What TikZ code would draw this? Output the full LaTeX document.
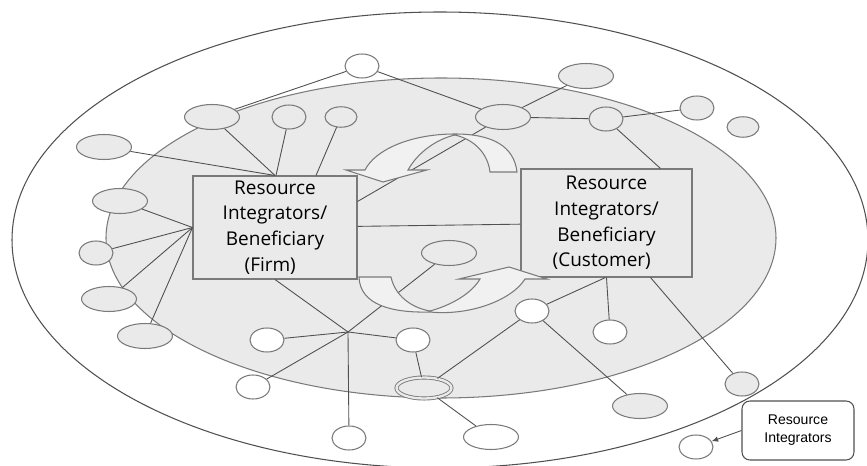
\documentclass[tikz,border=0pt]{standalone}
\usepackage{fontspec}
\setmainfont{Open Sans}
\newfontfamily\arialfont{Liberation Sans}
\usetikzlibrary{shapes.geometric,calc,arrows.meta}
\definecolor{lightfill}{HTML}{EAEAEA}
\definecolor{swirlfill}{HTML}{F1F1F1}
\definecolor{linegray}{HTML}{505050}
\definecolor{rimgray}{HTML}{7A7A7A}

\begin{document}
\begin{tikzpicture}[x=0.02cm,y=-0.02cm]
        \tikzstyle{resbig}=[ellipse,draw=rimgray,fill=lightfill,line width=0.6pt,minimum width=1.1cm,minimum height=0.5cm,inner sep=0pt]
        \tikzstyle{ressmall}=[ellipse,draw=rimgray,fill=lightfill,line width=0.6pt,minimum width=0.68cm,minimum height=0.48cm,inner sep=0pt]
        \tikzstyle{resdot}=[ellipse,draw=rimgray,fill=lightfill,line width=0.6pt,minimum width=0.64cm,minimum height=0.41cm,inner sep=0pt]
        \tikzstyle{whitefill}=[fill=white]
        \tikzstyle{ribox}=[rectangle,draw=rimgray,fill=lightfill,line width=0.6pt,align=center,inner sep=0pt,font=\fontsize{10.8}{14.6}\selectfont]
        \tikzstyle{link}=[draw=linegray,line width=0.5pt]
        \tikzstyle{swirl}=[draw=rimgray,fill=swirlfill,line width=0.6pt]
        \useasboundingbox (0,0) rectangle (867,466);
    	\begin{scope}
         % the two ecosystem rings
         \draw[draw=linegray,line width=0.6pt] (440,240) ellipse [x radius=428,y radius=228];
         \draw[draw=rimgray,fill=lightfill,line width=0.6pt] (441,238) ellipse [x radius=335,y radius=160];

         \node [ribox,minimum width=3.28cm,minimum height=2.06cm] (firm) at (275,227.5) {Resource\\Integrators/\\Beneficiary\\(Firm)\hspace*{0.5em}};
         \node [ribox,minimum width=3.42cm,minimum height=2.16cm] (cust) at (606.5,223) {Resource\\Integrators/\\Beneficiary\\(Customer)\hspace*{0.5em}};

         \node [ressmall,whitefill] (r1) at (362,66) {};
         \node [resbig] (r2) at (212,117) {};
         \node [ressmall] (r3) at (289,117) {};
         \node [resdot] (r4) at (341,117) {};
         \node [resbig] (r5) at (104,147) {};
         \node [resbig] (r6) at (120,201) {};
         \node [ressmall] (r7) at (96,253) {};
         \node [resbig] (r8) at (109,299) {};
         \node [resbig] (r9) at (145,336) {};
         \node [resbig] (r10) at (503,117) {};
         \node [resbig] (r11) at (586,76) {};
         \node [ressmall] (r12) at (606,119) {};
         \node [ressmall] (r13) at (697,108) {};
         \node [resdot] (r14) at (743,127) {};
         \node [resbig] (r15) at (449,253) {};
         \node [ressmall,whitefill] (r16) at (267,340) {};
         \node [ressmall,whitefill] (r17) at (413,340) {};
         \node [ressmall,whitefill] (r18) at (253,387) {};
         \node [ressmall,whitefill] (r19) at (349,438) {};
         \node [resbig,double=lightfill,double distance=1.3pt,line width=0.5pt,minimum height=0.42cm] (r20) at (424,388) {};
         \node [resbig,whitefill] (r21) at (491,437) {};
         \node [ressmall,whitefill] (r22) at (532,311) {};
         \node [ressmall,whitefill] (r23) at (610,332) {};
         \node [resbig] (r24) at (640,406) {};
         \node [ressmall] (r25) at (742,384) {};
         \node [ressmall,whitefill] (r26) at (696,447) {};
         \coordinate (hub) at (348,332);

         \node [rectangle,draw=linegray,fill=white,line width=0.6pt,rounded corners=4.5pt,minimum width=2.24cm,minimum height=1.18cm,align=center,font=\arialfont\fontsize{8}{10.2}\selectfont] (note) at (798,430.5) {Resource\\Integrators};

         \path[link] (r5) to (firm.north);
         \path[link] (r2) to (firm.north);
         \path[link] (r3) to ($(firm.north)+(1,0)$);
         \path[link] (r4) to ($(firm.north)+(41,0)$);
         \path[link] (r6) to (firm.west);
         \path[link] (r7) to (firm.west);
         \path[link] (r8) to (firm.west);
         \path[link] (r9) to (firm.west);
         \path[link] (r2) to (r1);
         \path[link] (r1) to (r10);
         \path[link] ($(firm.east)+(0,-26)$) to (r10);
         \path[link] (r10) to (r11);
         \path[link] (r10) to (r12);
         \path[link] (r12) to (r13);
         \path[link] (r12) to ($(cust.north)+(54,0)$);
         \path[link] (firm) to (cust);

         \path[link] (firm.south) to (hub);
         \path[link] (hub) to (r16);
         \path[link] (hub) to (r18);
         \path[link] (hub) to (r17);
         \path[link] (hub) to (r19);
         \path[link] (hub) to (r15);
         \path[link] (r17) to (r20);
         \path[link] (r20) to (r21);
         \path[link] (r20) to (r22);
         \path[link] (r22) to (r24);
         \path[link] (r22) to ($(cust.south)+(-1,0)$);
         \path[link] (r23) to (cust.south);
         \path[link] (r25) to ($(cust.south)+(44,0)$);
         \path[link,-{Latex[length=1.3mm,width=1.1mm]}] (note.west) to (r26);

         % the two turning arrows
         \path[swirl] (517,172) .. controls (514,146) and (492,134) .. (455,134)
            .. controls (410,134) and (375,150) .. (365,170) -- (346,170) -- (383,182) -- (427,170) -- (408,170)
            .. controls (418,152) and (437,139) .. (455,135)
            .. controls (476,140) and (488,155) .. (490,172) -- cycle;
         \path[swirl] (359,277) -- (391,277) .. controls (395,296) and (412,308) .. (430,311)
            .. controls (452,305) and (472,293) .. (480,279) -- (459,279) -- (509,267) -- (547,279) -- (525,279)
            .. controls (512,300) and (470,316) .. (430,312)
            .. controls (392,313) and (360,305) .. (359,277) -- cycle;
         \end{scope}
\end{tikzpicture}
\end{document}
